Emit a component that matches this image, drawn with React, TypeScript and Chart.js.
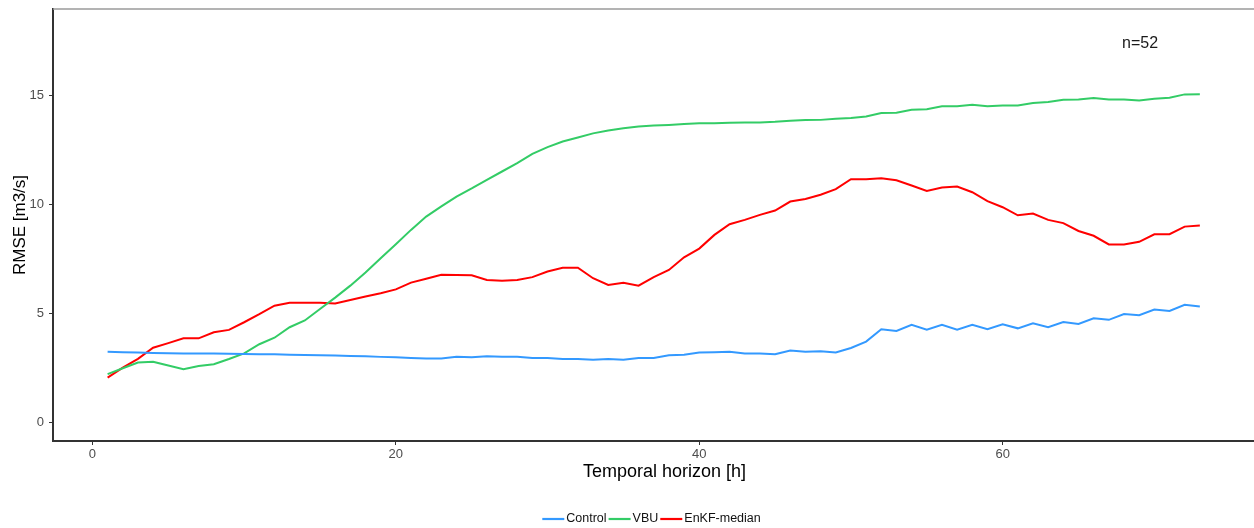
import React, { useEffect, useRef } from "react";
import { Chart, registerables } from "chart.js";

Chart.register(...registerables);

// ---- data ----
const hours = [
  1, 2, 3, 4, 5, 6, 7, 8, 9, 10, 11, 12, 13, 14, 15, 16, 17, 18, 19, 20,
  21, 22, 23, 24, 25, 26, 27, 28, 29, 30, 31, 32, 33, 34, 35, 36, 37, 38, 39, 40,
  41, 42, 43, 44, 45, 46, 47, 48, 49, 50, 51, 52, 53, 54, 55, 56, 57, 58, 59, 60,
  61, 62, 63, 64, 65, 66, 67, 68, 69, 70, 71, 72, 73,
];

const control = [
  3.22, 3.2, 3.19, 3.17, 3.16, 3.15, 3.15, 3.14, 3.13, 3.12, 3.11, 3.11, 3.09, 3.08, 3.06, 3.05, 3.03, 3.02, 2.99, 2.97,
  2.94, 2.92, 2.92, 2.99, 2.97, 3.02, 3.0, 3.0, 2.94, 2.94, 2.89, 2.89, 2.86, 2.89, 2.86, 2.94, 2.94, 3.06, 3.09, 3.19,
  3.2, 3.22, 3.15, 3.14, 3.11, 3.28, 3.23, 3.25, 3.19, 3.4, 3.69, 4.26, 4.18, 4.46, 4.24, 4.46, 4.24, 4.46, 4.26, 4.49,
  4.3, 4.53, 4.35, 4.59, 4.5, 4.76, 4.69, 4.96, 4.9, 5.16, 5.1, 5.38, 5.3,
];

const vbu = [
  2.2, 2.47, 2.73, 2.77, 2.59, 2.42, 2.57, 2.65, 2.89, 3.15, 3.57, 3.87, 4.35, 4.66, 5.19, 5.71, 6.26, 6.86, 7.52, 8.16,
  8.82, 9.43, 9.9, 10.35, 10.72, 11.12, 11.5, 11.88, 12.31, 12.62, 12.88, 13.06, 13.25, 13.38, 13.49, 13.57, 13.61, 13.64, 13.68, 13.71,
  13.72, 13.74, 13.75, 13.75, 13.78, 13.83, 13.86, 13.87, 13.92, 13.96, 14.03, 14.19, 14.2, 14.33, 14.36, 14.49, 14.49, 14.56, 14.49, 14.53,
  14.53, 14.64, 14.69, 14.79, 14.81, 14.87, 14.81, 14.81, 14.76, 14.84, 14.89, 15.04, 15.05,
];

const enkfMedian = [
  2.04, 2.5, 2.9, 3.41, 3.62, 3.84, 3.84, 4.12, 4.23, 4.58, 4.95, 5.34, 5.47, 5.48, 5.48, 5.44, 5.6, 5.76, 5.91, 6.09,
  6.4, 6.58, 6.76, 6.75, 6.74, 6.52, 6.48, 6.52, 6.65, 6.91, 7.08, 7.08, 6.6, 6.29, 6.39, 6.26, 6.65, 6.98, 7.56, 7.96,
  8.59, 9.08, 9.28, 9.51, 9.71, 10.12, 10.24, 10.43, 10.69, 11.15, 11.15, 11.19, 11.1, 10.86, 10.61, 10.77, 10.81, 10.55, 10.14, 9.86,
  9.49, 9.57, 9.28, 9.13, 8.77, 8.55, 8.15, 8.15, 8.27, 8.62, 8.62, 8.97, 9.02,
];

const seriesNames = ["Control", "VBU", "EnKF-median"];
const seriesColors = ["#3399FF", "#33CC66", "#FF0000"];
const seriesValues = [control, vbu, enkfMedian];

const xTicks = [0, 20, 40, 60];
const yTicks = [0, 5, 10, 15];

const xTitle = "Temporal horizon [h]";
const yTitle = "RMSE [m3/s]";
const annotationText = "n=52";
const annotationX = 69.06;
const annotationY = 17.37;

const FONT = "'Liberation Sans', Arial, Helvetica, sans-serif";

const decorPlugin = {
  id: "decor",
  afterDraw(chart: any) {
    const { ctx, chartArea, scales } = chart;
    ctx.save();
    // top panel border
    ctx.strokeStyle = "#9a9a9a";
    ctx.lineWidth = 1.5;
    ctx.beginPath();
    ctx.moveTo(chartArea.left, chartArea.top);
    ctx.lineTo(chartArea.right, chartArea.top);
    ctx.stroke();

    // annotation
    ctx.fillStyle = "#1a1a1a";
    ctx.font = `16px ${FONT}`;
    ctx.textAlign = "center";
    ctx.textBaseline = "middle";
    ctx.fillText(
      annotationText,
      scales.x.getPixelForValue(annotationX),
      scales.y.getPixelForValue(annotationY)
    );

    // legend
    ctx.font = `12.5px ${FONT}`;
    const lineLen = 22;
    const gapLine = 2;
    const gapItem = 2;
    const widths = seriesNames.map((n) => ctx.measureText(n).width);
    const total =
      widths.reduce((a, b) => a + b, 0) +
      seriesNames.length * (lineLen + gapLine) +
      (seriesNames.length - 1) * gapItem;
    let x = 651.5 - total / 2;
    const y = 519;
    ctx.textAlign = "left";
    ctx.textBaseline = "middle";
    seriesNames.forEach((name, i) => {
      ctx.strokeStyle = seriesColors[i];
      ctx.lineWidth = 2.2;
      ctx.beginPath();
      ctx.moveTo(x, y);
      ctx.lineTo(x + lineLen, y);
      ctx.stroke();
      ctx.fillStyle = "#111111";
      ctx.fillText(name, x + lineLen + gapLine, y);
      x += lineLen + gapLine + widths[i] + gapItem;
    });
    ctx.restore();
  },
};

export default function App() {
  const canvasRef = useRef<HTMLCanvasElement | null>(null);

  useEffect(() => {
    if (!canvasRef.current) return;
    const datasets = seriesNames.map((name, i) => ({
      label: name,
      data: hours.map((h, j) => ({ x: h, y: seriesValues[i][j] })),
      borderColor: seriesColors[i],
      backgroundColor: seriesColors[i],
      borderWidth: 2,
      pointRadius: 0,
      tension: 0,
      fill: false,
    }));

    const chart = new Chart(canvasRef.current, {
      type: "line",
      data: { datasets },
      plugins: [decorPlugin],
      options: {
        animation: false,
        responsive: false,
        devicePixelRatio: 1,
        layout: { padding: { top: 9, left: 0, right: 0, bottom: 43 }, autoPadding: false },
        plugins: {
          legend: { display: false },
          tooltip: { enabled: false },
        },
        scales: {
          x: {
            type: "linear",
            min: -2.6,
            max: 78.02,
            afterBuildTicks: (scale: any) => {
              scale.ticks = xTicks.map((v) => ({ value: v }));
            },
            afterFit: (scale: any) => {
              scale.height = 44;
              scale.paddingLeft = 0;
              scale.paddingRight = 0;
            },
            grid: {
              display: true,
              drawOnChartArea: false,
              drawTicks: true,
              tickLength: 4,
              color: "#333333",
              lineWidth: 1,
            },
            border: { display: true, color: "#333333", width: 2 },
            ticks: {
              color: "#4d4d4d",
              font: { family: FONT, size: 13 },
              padding: 2,
              maxRotation: 0,
              callback: (v: any) => String(v),
            },
            title: {
              display: true,
              text: xTitle,
              color: "#000000",
              font: { family: FONT, size: 18 },
              padding: { top: 0, bottom: 2 },
            },
          },
          y: {
            type: "linear",
            min: -0.872,
            max: 18.96,
            afterBuildTicks: (scale: any) => {
              scale.ticks = yTicks.map((v) => ({ value: v }));
            },
            afterFit: (scale: any) => {
              scale.width = 53;
              scale.paddingTop = 0;
              scale.paddingBottom = 0;
            },
            grid: {
              display: true,
              drawOnChartArea: false,
              drawTicks: true,
              tickLength: 4,
              color: "#333333",
              lineWidth: 1,
            },
            border: { display: true, color: "#333333", width: 2 },
            ticks: {
              color: "#4d4d4d",
              font: { family: FONT, size: 13 },
              padding: 5,
              callback: (v: any) => String(v),
            },
            title: {
              display: true,
              text: yTitle,
              color: "#000000",
              font: { family: FONT, size: 17 },
              padding: { top: 10, bottom: 0 },
            },
          },
        },
      },
    });
    return () => chart.destroy();
  }, []);

  return (
    <div
      style={{
        position: "absolute",
        left: 0,
        top: 0,
        width: 1254,
        height: 528,
        overflow: "hidden",
        background: "#ffffff",
      }}
    >
      <canvas ref={canvasRef} width={1276} height={528} style={{ display: "block" }} />
    </div>
  );
}
